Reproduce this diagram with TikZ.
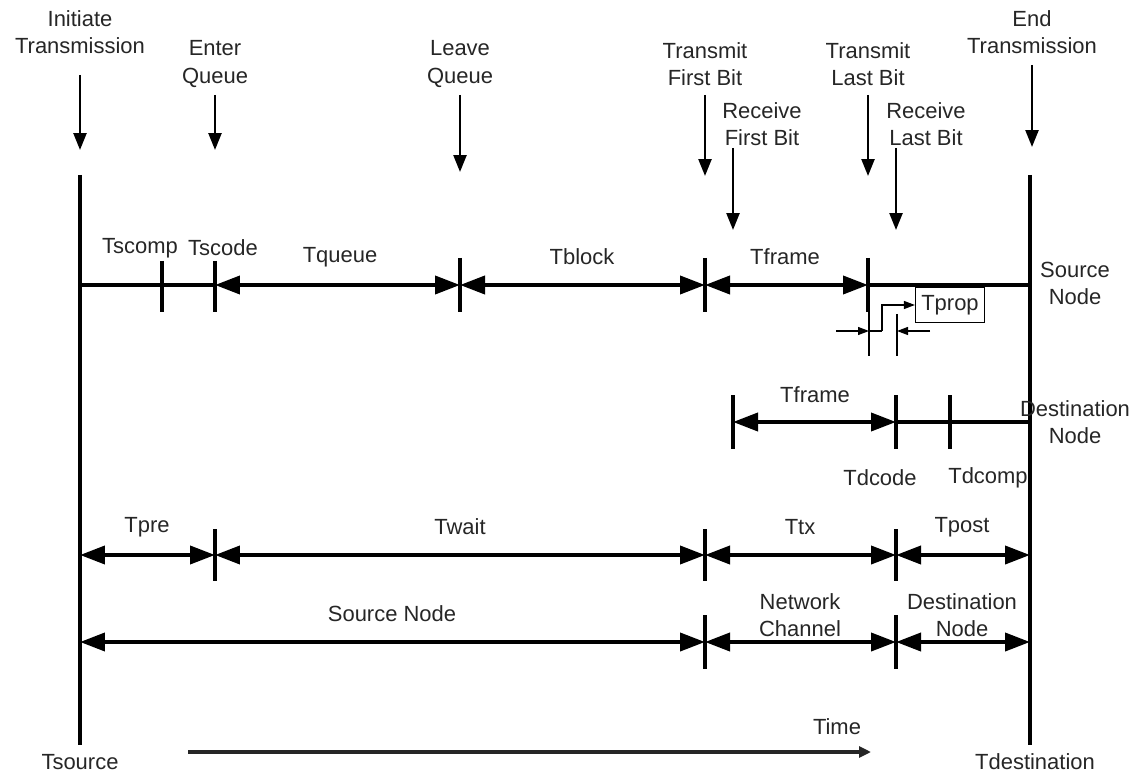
\documentclass[tikz,border=0pt]{standalone}
\usepackage{fontspec}
\setmainfont{Liberation Sans}
\usetikzlibrary{arrows.meta}
\begin{document}
\begin{tikzpicture}[x=0.02cm,y=-0.02cm,
  lbl/.style={font=\fontsize{12.5}{15.4}\selectfont, text=black!85, align=center, inner sep=0pt},
  axisline/.style={line width=1.8pt},
  tick/.style={line width=1.8pt},
  seg/.style={line width=2.2pt},
  dim/.style={line width=2.2pt, {Triangle[length=0.5cm,width=0.36cm]}-{Triangle[length=0.5cm,width=0.36cm]}},
  evt/.style={line width=1.4pt, -{Triangle[length=0.34cm,width=0.26cm]}},
  thinline/.style={line width=0.7pt},
  thinarrow/.style={line width=0.7pt, -{Triangle[length=0.22cm,width=0.16cm]}},
  timearrow/.style={line width=2pt, draw=black!85, -{Triangle[length=0.24cm,width=0.22cm]}}
]
\useasboundingbox (0,0) rectangle (1142,773);

% main verticals
\coordinate (Ltop) at (80,175);
\coordinate (Lbot) at (80,745);
\coordinate (Rtop) at (1030,175);
\coordinate (Rbot) at (1030,745);
\draw[axisline] (Ltop) -- (Lbot);
\draw[axisline] (Rtop) -- (Rbot);

% top event labels and arrows
\node[lbl] (init) at (80,32) {Initiate\\Transmission};
\node[lbl] (enter) at (215,64) {Enter\\Queue};
\node[lbl] (leave) at (460,64) {Leave\\Queue};
\node[lbl] (tfb) at (705,64) {Transmit\\First Bit};
\node[lbl] (rfb) at (762,124) {Receive\\First Bit};
\node[lbl] (tlb) at (868,64) {Transmit\\Last Bit};
\node[lbl] (rlb) at (926,124) {Receive\\Last Bit};
\node[lbl] (endt) at (1032,32) {End\\Transmission};

\coordinate (a1s) at (80,75);   \coordinate (a1e) at (80,150);
\coordinate (a2s) at (215,95);  \coordinate (a2e) at (215,150);
\coordinate (a3s) at (460,95);  \coordinate (a3e) at (460,172);
\coordinate (a4s) at (705,95);  \coordinate (a4e) at (705,176);
\coordinate (a5s) at (733,148); \coordinate (a5e) at (733,230);
\coordinate (a6s) at (868,95);  \coordinate (a6e) at (868,176);
\coordinate (a7s) at (896,148); \coordinate (a7e) at (896,230);
\coordinate (a8s) at (1032,65); \coordinate (a8e) at (1032,147);
\foreach \i in {1,...,8} \draw[evt] (a\i s) -- (a\i e);

% source node row
\coordinate (s0) at (80,285);
\coordinate (s1) at (162,285);
\coordinate (s2) at (215,285);
\coordinate (s3) at (460,285);
\coordinate (s4) at (705,285);
\coordinate (s5) at (868,285);
\coordinate (s6) at (1030,285);
\draw[seg] (s0) -- (s2);
\draw[seg] (s5) -- (s6);
\foreach \c in {s1,s2} \draw[tick] (\c) +(0,-24) -- +(0,27);
\foreach \c in {s3,s4,s5} \draw[tick] (\c) +(0,-27) -- +(0,27);
\draw[dim] (s2) -- (s3);
\draw[dim] (s3) -- (s4);
\draw[dim] (s4) -- (s5);
\node[lbl] (tscomp) at (140,248) {Tscomp};
\node[lbl] (tscode) at (223,248) {Tscode};
\node[lbl] (tqueue) at (340,257) {Tqueue};
\node[lbl] (tblock) at (582,257) {Tblock};
\node[lbl] (tframe1) at (785,257) {Tframe};
\node[lbl] (srcnode) at (1075,283) {Source\\Node};

% Tprop detail
\node[draw, thinline, lbl, minimum width=1.38cm, minimum height=0.7cm] (tprop) at (950,305) {Tprop};
\coordinate (p1t) at (869,312); \coordinate (p1b) at (869,356);
\coordinate (p2t) at (897,314); \coordinate (p2b) at (897,356);
\draw[thinline] (p1t) -- (p1b);
\draw[thinline] (p2t) -- (p2b);
\coordinate (pl) at (836,331); \coordinate (pla) at (869,331);
\coordinate (pr) at (930,331); \coordinate (pra) at (897,331);
\coordinate (pb) at (882,331);
\draw[thinarrow] (pl) -- (pla);
\draw[thinarrow] (pr) -- (pra);
\draw[thinline] (pla) -- (pb);
\draw[thinarrow] (pb) |- (tprop.west);

% destination row
\coordinate (d1) at (733,422);
\coordinate (d2) at (896,422);
\coordinate (d3) at (950,422);
\coordinate (d4) at (1030,422);
\foreach \c in {d1,d2,d3} \draw[tick] (\c) +(0,-27) -- +(0,27);
\draw[dim] (d1) -- (d2);
\draw[seg] (d2) -- (d4);
\node[lbl] (tframe2) at (815,395) {Tframe};
\node[lbl] (tdcode) at (880,478) {Tdcode};
\node[lbl] (tdcomp) at (988,478) {Tdcomp};
\node[lbl] (dstnode) at (1075,422) {Destination\\Node};

% third row
\coordinate (r0) at (80,555);
\coordinate (r1) at (215,555);
\coordinate (r2) at (705,555);
\coordinate (r3) at (896,555);
\coordinate (r4) at (1030,555);
\foreach \c in {r1,r2,r3} \draw[tick] (\c) +(0,-26) -- +(0,26);
\draw[dim] (r0) -- (r1);
\draw[dim] (r1) -- (r2);
\draw[dim] (r2) -- (r3);
\draw[dim] (r3) -- (r4);
\node[lbl] (tpre) at (147,527) {Tpre};
\node[lbl] (twait) at (460,527) {Twait};
\node[lbl] (ttx) at (800,527) {Ttx};
\node[lbl] (tpost) at (962,527) {Tpost};

% fourth row
\coordinate (q0) at (80,642);
\coordinate (q1) at (705,642);
\coordinate (q2) at (896,642);
\coordinate (q3) at (1030,642);
\foreach \c in {q1,q2} \draw[tick] (\c) +(0,-27) -- +(0,27);
\draw[dim] (q0) -- (q1);
\draw[dim] (q1) -- (q2);
\draw[dim] (q2) -- (q3);
\node[lbl] (srcnode2) at (392,614) {Source Node};
\node[lbl] (netch) at (800,615) {Network\\Channel};
\node[lbl] (dstnode2) at (962,615) {Destination\\Node};

% time axis
\coordinate (ts) at (188,752);
\coordinate (te) at (871,752);
\draw[timearrow] (ts) -- (te);
\node[lbl] (time) at (837,727) {Time};
\node[lbl] (tsource) at (80,762) {Tsource};
\node[lbl] (tdest) at (1035,762) {Tdestination};
\end{tikzpicture}
\end{document}
